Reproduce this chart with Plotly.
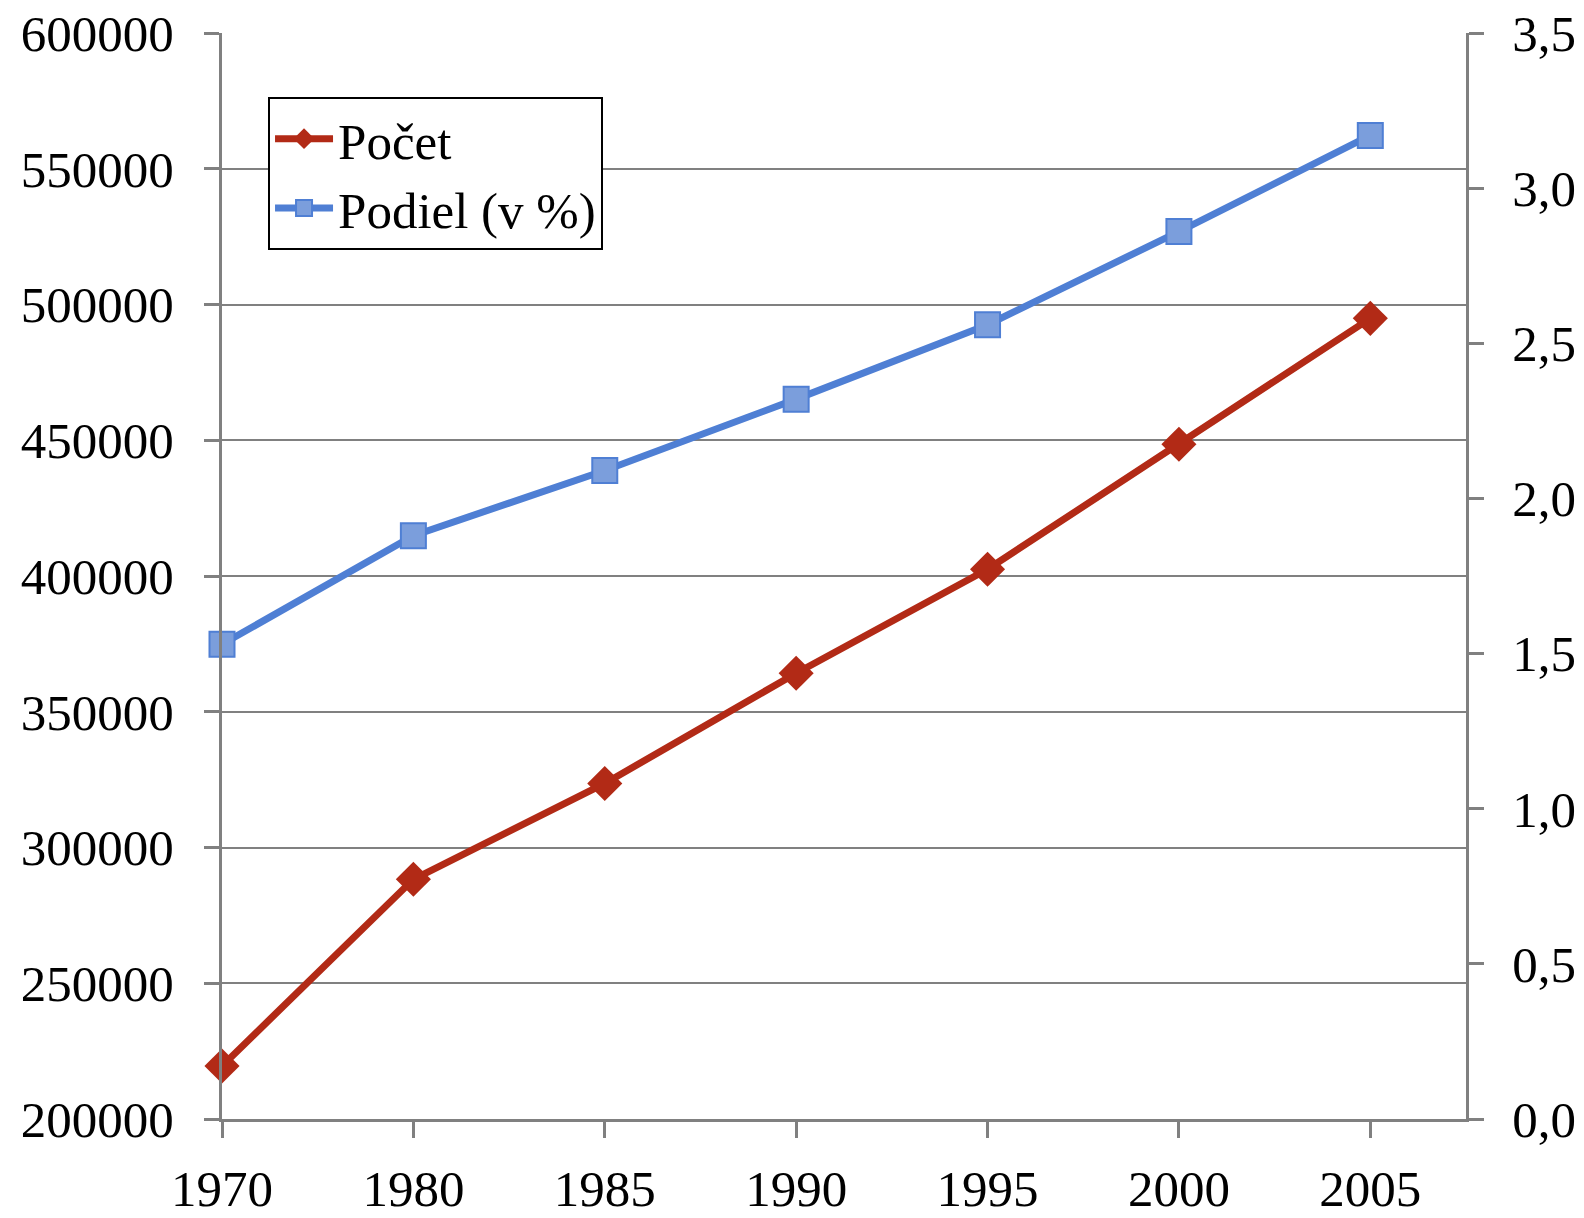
import plotly.graph_objects as go

years = ["1970", "1980", "1985", "1990", "1995", "2000", "2005"]
pocet = [219500, 288300, 323600, 364200, 402500, 448500, 494900]
podiel = [1.53, 1.88, 2.09, 2.32, 2.56, 2.86, 3.17]

red = "#B22A16"
blue = "#4F7FD4"
blue_fill = "#7B9EDC"
grey = "#808080"
font = dict(family="Liberation Serif", size=51, color="black")

fig = go.Figure()
fig.add_trace(
    go.Scatter(
        x=years,
        y=pocet,
        name="Počet",
        mode="lines+markers",
        line=dict(color=red, width=7),
        marker=dict(symbol="diamond", size=27, color=red),
        cliponaxis=False,
    )
)
fig.add_trace(
    go.Scatter(
        x=years,
        y=podiel,
        name="Podiel (v %)",
        yaxis="y2",
        mode="lines+markers",
        line=dict(color=blue, width=7),
        marker=dict(
            symbol="square", size=25, color=blue_fill, line=dict(color=blue, width=2)
        ),
        cliponaxis=False,
    )
)

fig.update_layout(
    width=1584,
    height=1218,
    margin=dict(l=222, r=118, t=33, b=99),
    plot_bgcolor="white",
    paper_bgcolor="white",
    font=font,
    separators=", ",
    showlegend=True,
    legend=dict(
        x=0.037,
        y=0.941,
        xanchor="left",
        yanchor="top",
        bgcolor="white",
        bordercolor="black",
        borderwidth=2,
        font=font,
        tracegroupgap=0,
        itemsizing="trace",
        itemwidth=58,
    ),
    xaxis=dict(
        type="category",
        range=[0, 6.5],
        automargin=False,
        ticklabeloverflow="allow",
        showline=True,
        linecolor=grey,
        linewidth=3,
        showgrid=False,
        ticks="outside",
        ticklen=16,
        tickwidth=3,
        tickcolor=grey,
        ticklabelstandoff=7,
    ),
    yaxis=dict(
        range=[200000, 600000],
        dtick=50000,
        tickformat="d",
        automargin=False,
        ticklabeloverflow="allow",
        showline=True,
        linecolor=grey,
        linewidth=3,
        showgrid=True,
        gridcolor=grey,
        gridwidth=2,
        zeroline=False,
        ticks="outside",
        ticklen=15,
        tickwidth=3,
        tickcolor=grey,
        ticklabelstandoff=20,
    ),
    yaxis2=dict(
        overlaying="y",
        side="right",
        range=[0, 3.5],
        dtick=0.5,
        tickformat=".1f",
        automargin=False,
        ticklabeloverflow="allow",
        showline=True,
        linecolor=grey,
        linewidth=3,
        showgrid=False,
        zeroline=False,
        ticks="outside",
        ticklen=15,
        tickwidth=3,
        tickcolor=grey,
        ticklabelstandoff=18,
    ),
)

# drop the default body margin so the figure fills the window exactly
fig.write_html(
    "out.html",
    config={"displayModeBar": False},
    post_script="document.body.style.margin = '0';",
)
